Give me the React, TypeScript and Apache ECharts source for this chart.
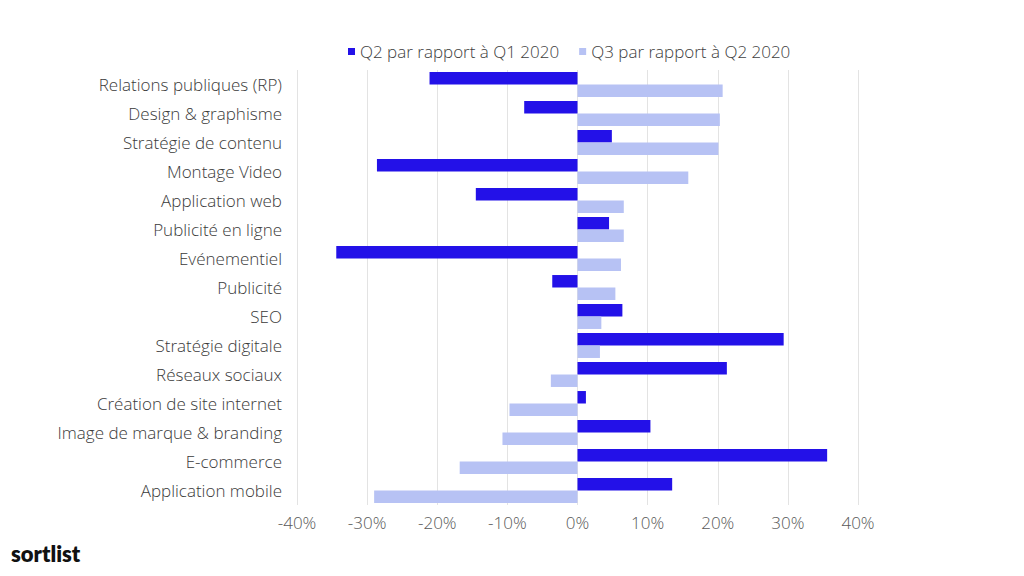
import React, { useEffect, useRef } from "react";
import * as echarts from "echarts";

const categories = [
  "Relations publiques (RP)",
  "Design & graphisme",
  "Stratégie de contenu",
  "Montage Video",
  "Application web",
  "Publicité en ligne",
  "Evénementiel",
  "Publicité",
  "SEO",
  "Stratégie digitale",
  "Réseaux sociaux",
  "Création de site internet",
  "Image de marque & branding",
  "E-commerce",
  "Application mobile",
];

const seriesNames = ["Q2 par rapport à Q1 2020", "Q3 par rapport à Q2 2020"];

const q2VsQ1 = [-21.1, -7.6, 4.9, -28.6, -14.5, 4.5, -34.4, -3.6, 6.4, 29.4, 21.3, 1.2, 10.4, 35.6, 13.5];
const q3VsQ2 = [20.7, 20.3, 20.1, 15.8, 6.6, 6.6, 6.2, 5.4, 3.4, 3.2, -3.8, -9.7, -10.7, -16.8, -29.0];

const FONT = "'Open Sans', 'Noto Sans', sans-serif";

export default function App() {
  const ref = useRef<HTMLDivElement>(null);
  useEffect(() => {
    if (!ref.current) return;
    const chart = echarts.init(ref.current, undefined, { renderer: "svg" });
    chart.setOption({
      animation: false,
      backgroundColor: "#ffffff",
      textStyle: { fontFamily: FONT },
      legend: {
        top: 38,
        left: 343,
        itemWidth: 7,
        itemHeight: 7,
        itemGap: 20,
        icon: "rect",
        textStyle: { fontSize: 17, fontWeight: 300, color: "#404040", fontFamily: FONT },
        data: seriesNames,
      },
      grid: { left: 297, right: 166, top: 70, height: 435, containLabel: false },
      xAxis: {
        type: "value",
        min: -40,
        max: 40,
        interval: 10,
        axisLine: { show: false },
        axisTick: { show: false },
        splitLine: { lineStyle: { color: "#e3e3e3", width: 1 } },
        axisLabel: {
          formatter: "{value}%",
          fontSize: 17,
          fontWeight: 300,
          color: "#595959",
          margin: 9,
          fontFamily: FONT,
        },
      },
      yAxis: {
        type: "category",
        inverse: true,
        data: categories,
        axisLine: { show: false, onZero: false },
        axisTick: { show: false },
        axisLabel: { fontSize: 17, fontWeight: 300, color: "#3a3a3a", margin: 15, fontFamily: FONT },
      },
      series: [
        {
          name: seriesNames[0],
          type: "bar",
          data: q2VsQ1,
          barGap: "0%",
          barCategoryGap: "14%",
          itemStyle: { color: "#2311E8" },
        },
        {
          name: seriesNames[1],
          type: "bar",
          data: q3VsQ2,
          barGap: "0%",
          barCategoryGap: "14%",
          itemStyle: { color: "#B7C2F4" },
        },
      ],
      graphic: [
        {
          type: "text",
          left: 11,
          top: 542,
          style: {
            text: "sortlist",
            fontSize: 22,
            fontWeight: 800,
            fontFamily: "Lato, 'Open Sans', sans-serif",
            fill: "#111111",
          },
        },
      ],
    });
    return () => chart.dispose();
  }, []);
  return (
    <div
      ref={ref}
      style={{ position: "fixed", left: 0, top: 0, width: 1024, height: 576 }}
    />
  );
}
